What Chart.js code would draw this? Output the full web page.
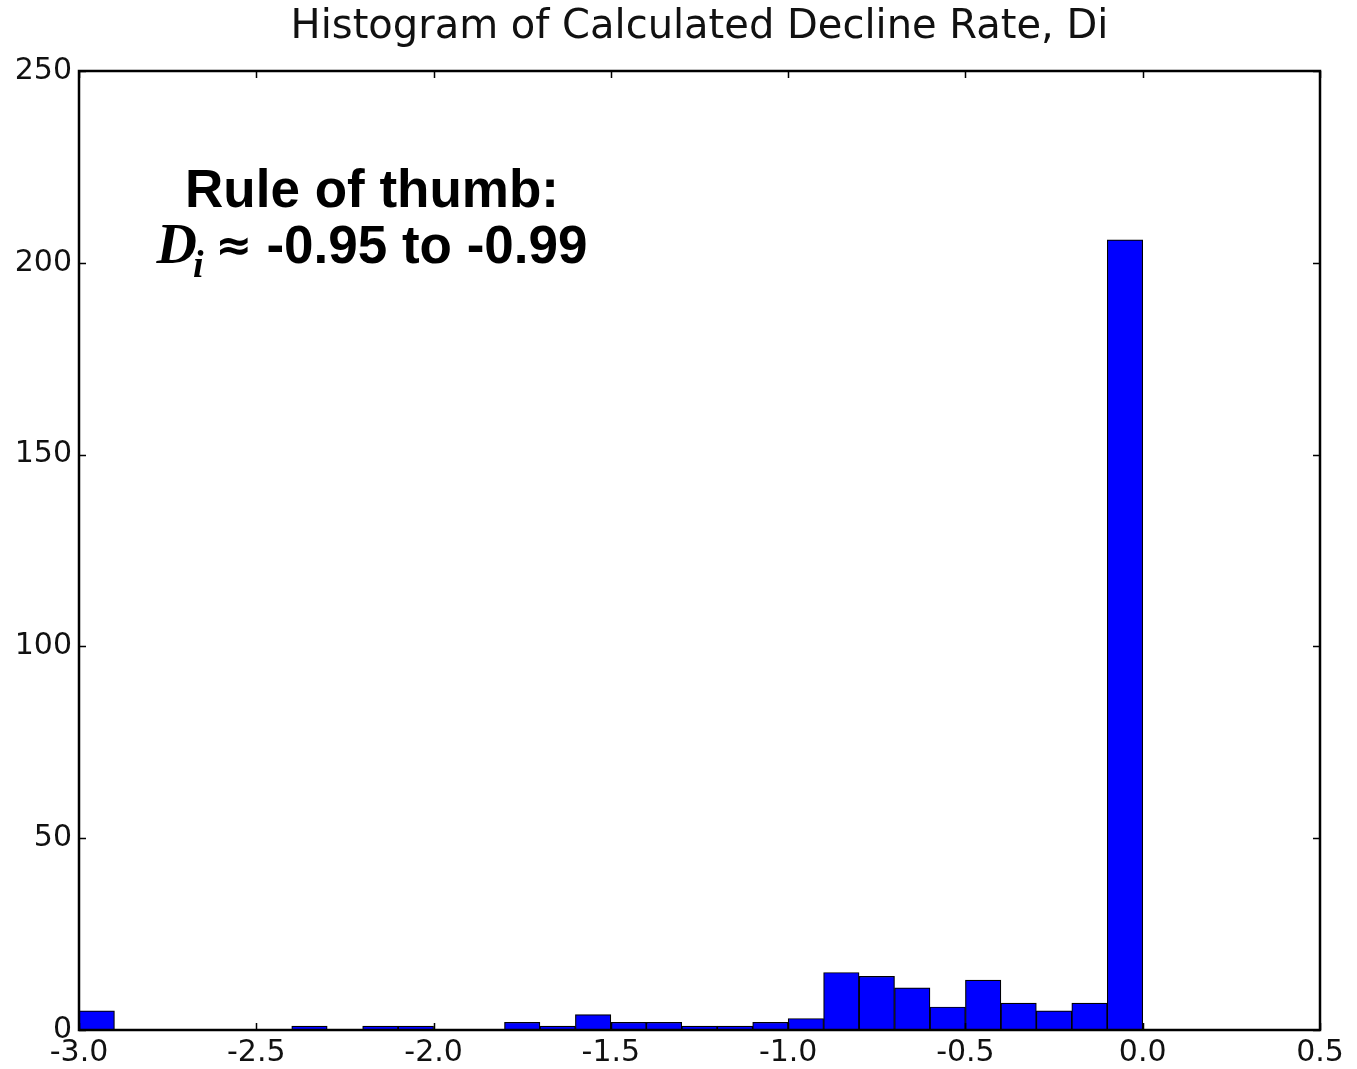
<!DOCTYPE html>
<html>
<head>
<meta charset="utf-8">
<title>Histogram of Calculated Decline Rate, Di</title>
<script src="https://cdn.jsdelivr.net/npm/chart.js@4.4.1/dist/chart.umd.min.js"></script>
<style>
  html, body { margin: 0; padding: 0; background: #ffffff; }
  #wrap { width: 1357px; height: 1069px; position: relative; }
</style>
</head>
<body>
<div id="wrap"><canvas id="chart"></canvas></div>
<script>
// Lower edges of the 0.1-wide bins of Di
const binEdges = [-3.0, -2.9, -2.8, -2.7, -2.6, -2.5, -2.4, -2.3, -2.2, -2.1,
                  -2.0, -1.9, -1.8, -1.7, -1.6, -1.5, -1.4, -1.3, -1.2, -1.1,
                  -1.0, -0.9, -0.8, -0.7, -0.6, -0.5, -0.4, -0.3, -0.2, -0.1];
// Number of wells falling in each bin
const counts = [5, 0, 0, 0, 0, 0, 1, 0, 1, 1,
                0, 0, 2, 1, 4, 2, 2, 1, 1, 2,
                3, 15, 14, 11, 6, 13, 7, 5, 7, 206];
const binWidth = 0.1;
const xTicks = [-3.0, -2.5, -2.0, -1.5, -1.0, -0.5, 0.0, 0.5];
const yTicks = [0, 50, 100, 150, 200, 250];

const titleText = 'Histogram of Calculated Decline Rate, Di';
const noteLine1 = 'Rule of thumb:';
const noteRange = '-0.95 to -0.99';

const points = binEdges.map((e, i) => ({ x: +(e + binWidth / 2).toFixed(2), y: counts[i] }));

// Closed frame with matplotlib-style inward ticks on all four sides
const framePlugin = {
  id: 'frame',
  afterDraw(chart) {
    const { ctx, chartArea: a, scales } = chart;
    ctx.save();
    ctx.strokeStyle = '#000';
    ctx.lineWidth = 1.5;
    const len = 7;
    scales.x.ticks.forEach((t, i) => {
      const px = Math.round(scales.x.getPixelForTick(i)) + 0.5;
      ctx.beginPath();
      ctx.moveTo(px, a.bottom); ctx.lineTo(px, a.bottom - len);
      ctx.moveTo(px, a.top); ctx.lineTo(px, a.top + len);
      ctx.stroke();
    });
    scales.y.ticks.forEach((t, i) => {
      const py = Math.round(scales.y.getPixelForTick(i)) + 0.5;
      ctx.beginPath();
      ctx.moveTo(a.left, py); ctx.lineTo(a.left + len, py);
      ctx.moveTo(a.right, py); ctx.lineTo(a.right - len, py);
      ctx.stroke();
    });
    ctx.lineWidth = 2.5;
    ctx.strokeRect(a.left, a.top, a.right - a.left, a.bottom - a.top);
    ctx.restore();
  }
};

// Rule-of-thumb note in the upper left of the plot
const notePlugin = {
  id: 'note',
  afterDraw(chart) {
    const { ctx } = chart;
    const cx = 372;
    ctx.save();
    ctx.fillStyle = '#000';
    ctx.textBaseline = 'alphabetic';
    ctx.font = 'bold 53px "Liberation Sans", Arial, sans-serif';
    ctx.textAlign = 'center';
    ctx.fillText(noteLine1, cx, 207);

    // second line: D_i ≈ -0.95 to -0.99
    const fD = 'italic bold 56px "Liberation Serif", "Times New Roman", serif';
    const fSub = 'italic bold 38px "Liberation Serif", "Times New Roman", serif';
    const fApprox = 'bold 44px "DejaVu Sans", sans-serif';
    const fNum = 'bold 53px "Liberation Sans", Arial, sans-serif';
    ctx.textAlign = 'left';
    ctx.font = fD; const wD = ctx.measureText('D').width;
    ctx.font = fSub; const wSub = ctx.measureText('i').width;
    ctx.font = fApprox; const wAp = ctx.measureText('≈').width;
    ctx.font = fNum; const wNum = ctx.measureText(noteRange).width;
    const gap1 = 12, gap2 = 14;
    const total = wD - 4 + wSub + gap1 + wAp + gap2 + wNum;
    let x = cx - total / 2;
    const base = 263;
    ctx.font = fD; ctx.fillText('D', x, base); x += wD - 4;
    ctx.font = fSub; ctx.fillText('i', x, base + 14); x += wSub + gap1;
    ctx.font = fApprox; ctx.fillText('≈', x, base - 3); x += wAp + gap2;
    ctx.font = fNum; ctx.fillText(noteRange, x, base);
    ctx.restore();
  }
};

new Chart(document.getElementById('chart'), {
  type: 'bar',
  data: {
    datasets: [{
      data: points,
      backgroundColor: '#0000ff',
      borderColor: '#000000',
      borderWidth: 1.2,
      borderSkipped: false,
      barPercentage: 1.0,
      categoryPercentage: 1.0
    }]
  },
  options: {
    responsive: true,
    maintainAspectRatio: false,
    animation: false,
    layout: { padding: { left: 0, right: 37, top: 0, bottom: 0 } },
    plugins: {
      legend: { display: false },
      tooltip: { enabled: false },
      title: {
        display: true,
        fullSize: false,
        text: titleText,
        color: '#111',
        font: { family: '"DejaVu Sans", sans-serif', size: 40, weight: 'normal', lineHeight: 1.2 },
        padding: { top: 4, bottom: 19 }
      }
    },
    scales: {
      x: {
        type: 'linear',
        offset: false,
        min: xTicks[0],
        max: xTicks[xTicks.length - 1],
        afterFit(s) { s.height = 39; },
        afterBuildTicks(s) { s.ticks = xTicks.map(v => ({ value: v })); },
        grid: { display: false, drawTicks: false, offset: false },
        border: { display: false },
        ticks: {
          color: '#111',
          padding: 5,
          maxRotation: 0,
          autoSkip: false,
          font: { family: '"DejaVu Sans", sans-serif', size: 30 },
          callback: v => v.toFixed(1)
        }
      },
      y: {
        type: 'linear',
        min: yTicks[0],
        max: yTicks[yTicks.length - 1],
        afterFit(s) { s.width = 79; },
        afterBuildTicks(s) { s.ticks = yTicks.map(v => ({ value: v })); },
        grid: { display: false, drawTicks: false },
        border: { display: false },
        ticks: {
          color: '#111',
          padding: 7,
          font: { family: '"DejaVu Sans", sans-serif', size: 30 },
          callback: v => String(v)
        }
      }
    }
  },
  plugins: [framePlugin, notePlugin]
});
</script>
</body>
</html>
